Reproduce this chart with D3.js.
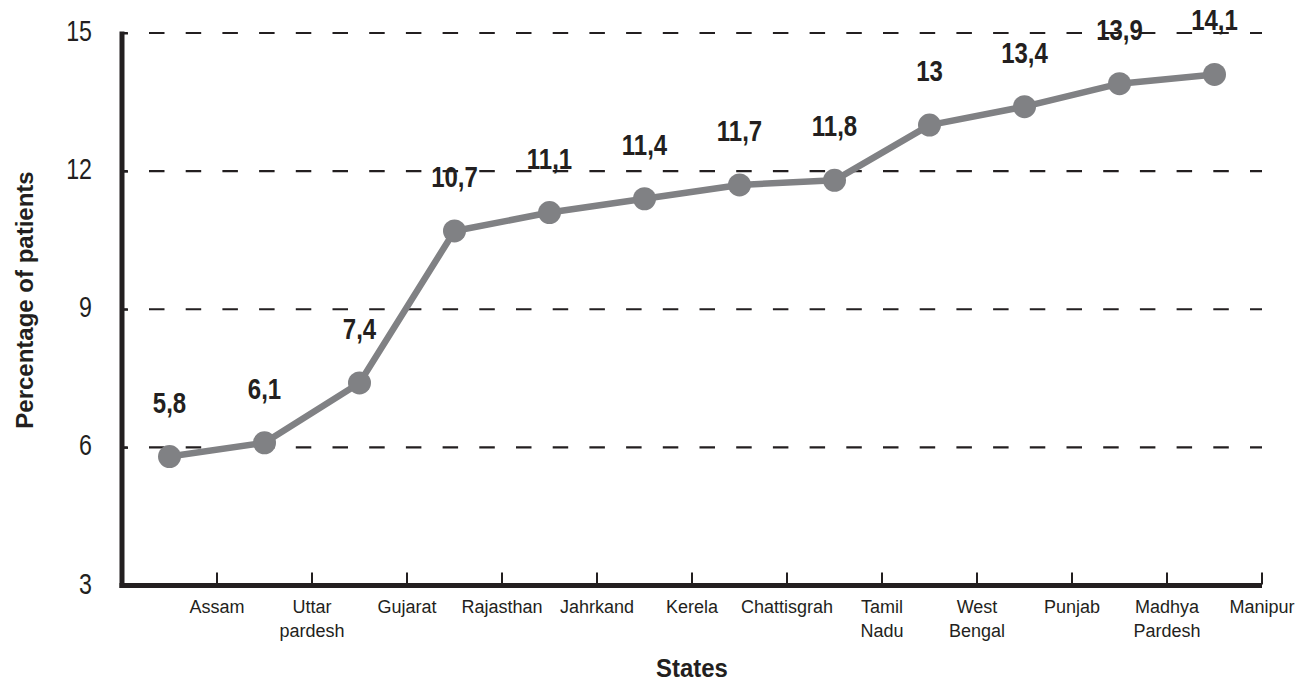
<!DOCTYPE html>
<html>
<head>
<meta charset="utf-8">
<script src="https://cdn.jsdelivr.net/npm/d3@7"></script>
<style>
  html, body { margin: 0; padding: 0; background: #fff; }
  svg { display: block; font-family: "Liberation Sans", Arial, Helvetica, sans-serif; }
</style>
</head>
<body>
<svg id="chart" width="1302" height="685"></svg>
<script>
// State names (multi-line labels split on "\n")
const states = ["Assam", "Uttar\npardesh", "Gujarat", "Rajasthan", "Jahrkand", "Kerela",
                "Chattisgrah", "Tamil\nNadu", "West\nBengal", "Punjab", "Madhya\nPardesh", "Manipur"];
// Percentage of patients per state
const percentages = [5.8, 6.1, 7.4, 10.7, 11.1, 11.4, 11.7, 11.8, 13, 13.4, 13.9, 14.1];
// Value labels as printed (decimal comma)
const valueLabels = ["5,8", "6,1", "7,4", "10,7", "11,1", "11,4", "11,7", "11,8", "13", "13,4", "13,9", "14,1"];
// Y axis ticks
const yTicks = [3, 6, 9, 12, 15];
const gridValues = [6, 9, 12, 15];

const ink = "#231f20";
const lineGrey = "#808184";
const fontStack = "'Liberation Sans', Arial, Helvetica, sans-serif";

const svg = d3.select("#chart");
const plot = { left: 122, right: 1262, top: 33, bottom: 585.5 };

const x = d3.scaleBand().domain(d3.range(states.length)).range([plot.left, plot.right]).padding(0);
const y = d3.scaleLinear().domain([3, 15]).range([plot.bottom, plot.top]);
const bw = x.bandwidth();

// Dashed horizontal gridlines
const period = 36.7;
svg.append("g").selectAll("line").data(gridValues).join("line")
  .attr("x1", plot.left).attr("x2", plot.right)
  .attr("y1", d => y(d)).attr("y2", d => y(d))
  .attr("stroke", ink).attr("stroke-width", 2.2)
  .attr("stroke-dasharray", "15.5," + (period - 15.5))
  .attr("stroke-dashoffset", 9.7);

// Y axis: inward ticks, large condensed labels
const yAxis = d3.axisLeft(y).tickValues(yTicks).tickSizeInner(-6).tickSizeOuter(0).tickPadding(30);
const gy = svg.append("g").attr("transform", `translate(${plot.left},0)`).call(yAxis);
gy.select(".domain").remove();
gy.selectAll(".tick line").attr("stroke", ink).attr("stroke-width", 2);
gy.selectAll(".tick text")
  .attr("x", null).attr("dy", null)
  .attr("transform", "translate(-30,7.5) scale(0.8,1)")
  .attr("fill", ink)
  .style("font-size", "29px")
  .style("font-family", fontStack);
svg.append("line")
  .attr("x1", plot.left).attr("x2", plot.left)
  .attr("y1", plot.top - 1.5).attr("y2", plot.bottom + 2.5)
  .attr("stroke", ink).attr("stroke-width", 5);

// X axis: ticks and labels sit on the right edge of each band
const xAxis = d3.axisBottom(x).tickSizeInner(-12).tickSizeOuter(0).tickPadding(0).tickFormat(() => "");
const gx = svg.append("g").attr("transform", `translate(${bw / 2},${plot.bottom - 1})`).call(xAxis);
gx.select(".domain").remove();
gx.selectAll(".tick line").attr("stroke", ink).attr("stroke-width", 2);
gx.selectAll(".tick").each(function (d) {
  const lines = states[d].split("\n");
  const t = d3.select(this).append("text")
    .attr("text-anchor", "middle")
    .attr("fill", ink)
    .style("font-family", fontStack)
    .style("font-size", "18px");
  lines.forEach((s, i) => {
    t.append("tspan").attr("x", 0).attr("y", 28.5 + i * 24).text(s);
  });
});
svg.append("line")
  .attr("x1", plot.left - 2.5).attr("x2", plot.right)
  .attr("y1", plot.bottom).attr("y2", plot.bottom)
  .attr("stroke", ink).attr("stroke-width", 5);

// Series line and markers
const line = d3.line().x((d, i) => x(i) + bw / 2).y(d => y(d));
svg.append("path").datum(percentages)
  .attr("d", line).attr("fill", "none")
  .attr("stroke", lineGrey).attr("stroke-width", 6.5)
  .attr("stroke-linejoin", "round");
svg.append("g").selectAll("circle").data(percentages).join("circle")
  .attr("cx", (d, i) => x(i) + bw / 2).attr("cy", d => y(d))
  .attr("r", 11.5).attr("fill", lineGrey);

// Value labels above markers
svg.append("g").selectAll("text").data(percentages).join("text")
  .attr("transform", (d, i) => `translate(${x(i) + bw / 2},${y(d) - 44}) scale(0.8,1)`)
  .attr("text-anchor", "middle")
  .attr("fill", ink)
  .style("font-size", "30px").style("font-weight", "bold")
  .text((d, i) => valueLabels[i]);

// Axis titles
svg.append("text")
  .attr("transform", `translate(${(plot.left + plot.right) / 2},677) scale(0.92,1)`)
  .attr("text-anchor", "middle").attr("fill", ink)
  .style("font-size", "26px").style("font-weight", "bold")
  .text("States");
svg.append("text")
  .attr("transform", "translate(33,300) rotate(-90)")
  .attr("text-anchor", "middle").attr("fill", ink)
  .style("font-size", "24px").style("font-weight", "bold")
  .text("Percentage of patients");
</script>
</body>
</html>
